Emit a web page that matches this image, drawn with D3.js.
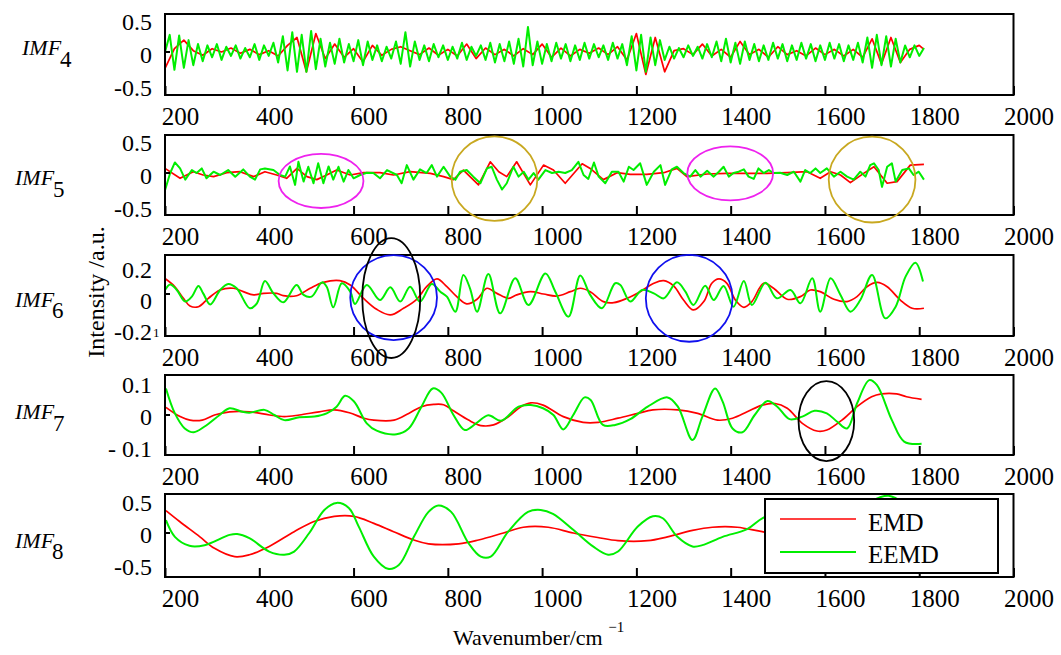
<!DOCTYPE html>
<html>
<head>
<meta charset="utf-8">
<script src="https://cdn.jsdelivr.net/npm/d3@7"></script>
<style>
  body { margin: 0; background: #fff; }
</style>
</head>
<body>
<svg id="chart" width="1061" height="655" font-family="Liberation Serif"></svg>
<script>
// x tick labels (wavenumber)
var xTicks = [200, 400, 600, 800, 1000, 1200, 1400, 1600, 1800, 2000];

// IMF4: sampled every 10 cm-1 (green) and every 20 cm-1 (red)
var imf4EemdY = [0.0, 0.26, -0.27, 0.25, -0.24, 0.18, -0.2, 0.12, -0.14, 0.1,
  -0.08, 0.12, -0.12, 0.08, -0.06, 0.1, -0.1, 0.06, -0.08, 0.12,
  -0.12, 0.1, -0.06, 0.14, -0.16, 0.24, -0.28, 0.3, -0.3, 0.26,
  -0.3, 0.32, -0.26, 0.2, -0.22, 0.14, -0.18, 0.2, -0.16, 0.12,
  -0.14, 0.18, -0.2, 0.16, -0.12, 0.1, -0.14, 0.08, -0.1, 0.16,
  -0.18, 0.3, -0.22, 0.16, -0.12, 0.1, -0.14, 0.12, -0.08, 0.1,
  -0.12, 0.08, -0.1, 0.14, -0.12, 0.08, -0.06, 0.1, -0.12, 0.14,
  -0.16, 0.12, -0.14, 0.16, -0.18, 0.2, -0.22, 0.38, -0.2, 0.16,
  -0.18, 0.12, -0.14, 0.14, -0.1, 0.12, -0.14, 0.1, -0.12, 0.14,
  -0.1, 0.12, -0.08, 0.1, -0.12, 0.14, -0.1, 0.12, -0.2, 0.24,
  -0.28, 0.26, -0.3, 0.22, -0.2, 0.18, -0.12, 0.08, -0.1, 0.06,
  -0.08, 0.1, -0.06, 0.08, -0.1, 0.12, -0.08, 0.16, -0.14, 0.2,
  -0.16, 0.14, -0.18, 0.16, -0.12, 0.12, -0.14, 0.1, -0.12, 0.14,
  -0.1, 0.12, -0.14, 0.1, -0.12, 0.14, -0.1, 0.12, -0.14, 0.1,
  -0.12, 0.14, -0.1, 0.12, -0.14, 0.1, -0.12, 0.14, -0.16, 0.22,
  -0.24, 0.26, -0.2, 0.24, -0.22, 0.2, -0.16, 0.1, -0.08, 0.1,
  -0.06, 0.06];
var imf4EmdY = [-0.25, 0.05, 0.18, 0.02, -0.05, 0.05, 0.0, 0.06, -0.02, 0.04,
  -0.04, 0.02, -0.06, 0.1, 0.22, -0.3, 0.28, -0.1, 0.12, -0.08,
  0.05, -0.15, 0.1, -0.05, 0.04, 0.08, 0.02, -0.04, 0.06, -0.05,
  0.04, -0.06, 0.12, -0.1, 0.06, -0.04, 0.04, -0.06, 0.05, -0.04,
  0.12, -0.08, 0.06, -0.06, 0.04, -0.02, 0.06, -0.04, 0.08, -0.12,
  0.28, -0.34, 0.22, -0.3, 0.02, 0.05, -0.04, 0.12, -0.06, 0.04,
  -0.08, 0.16, -0.04, 0.04, -0.08, 0.08, -0.04, 0.02, -0.06, 0.06,
  -0.04, 0.04, -0.06, 0.04, -0.08, 0.2, -0.18, 0.22, -0.16, 0.04,
  0.1, 0.04];
var imf4EemdX = d3.range(200, 1811, 10);
var imf4EmdX = d3.range(200, 1801, 20).concat([1810]);

// IMF5 [wavenumber, value]
var imf5Emd = [[200,0.07],[232,-0.08],[260,0.02],[281,-0.03],[303,-0.055],[331,0.005],[359,0.02],
  [388,-0.055],[412,0.02],[437,-0.03],[458,-0.08],[480,0.07],[501,-0.055],[522,-0.1],[543,-0.03],
  [564,0.045],[593,-0.03],[621,0.005],[656,0.005],[685,-0.03],[720,0.02],[763,-0.005],[791,-0.055],
  [812,-0.1],[833,0.045],[865,-0.18],[890,0.17],[908,0.02],[925,-0.055],[946,0.17],[975,-0.18],
  [1003,0.12],[1024,0.045],[1049,-0.155],[1085,0.14],[1102,0.07],[1130,-0.1],[1159,0.005],
  [1187,-0.02],[1222,-0.02],[1258,0.005],[1286,0.07],[1307,-0.055],[1350,-0.015],[1392,-0.005],
  [1435,-0.005],[1477,-0.005],[1520,0.005],[1562,0.02],[1590,-0.08],[1612,0.02],[1633,-0.03],
  [1654,-0.145],[1682,-0.005],[1704,0.095],[1732,-0.155],[1753,-0.13],[1781,0.12],[1810,0.13]];
var imf5Eemd = [[200,-0.26],[211,0],[221,0.16],[232,0.07],[243,-0.1],[257,0.045],[267,0],[278,0.07],
  [288,-0.08],[303,0.02],[317,-0.03],[334,0.045],[349,-0.055],[366,0.055],[380,-0.055],[391,-0.1],
  [402,0.055],[412,0.07],[430,0.045],[444,-0.03],[455,-0.055],[465,0.1],[476,-0.18],[483,0.17],
  [494,-0.13],[504,0.095],[515,-0.155],[525,0.147],[536,-0.155],[547,0.1],[557,-0.1],[568,0.095],
  [579,-0.13],[589,0.045],[600,-0.08],[614,-0.03],[628,0.005],[642,0],[656,-0.08],[671,0.045],
  [692,-0.03],[702,-0.155],[713,0.12],[727,-0.1],[741,0.055],[755,0],[766,0.12],[777,-0.055],
  [791,0.095],[805,-0.055],[816,-0.1],[826,0.02],[840,0.045],[854,-0.055],[869,-0.155],[883,0.07],
  [893,0.095],[904,-0.1],[915,-0.25],[925,-0.155],[939,0.095],[950,-0.055],[961,0.02],[971,-0.1],
  [982,0],[992,-0.1],[1007,0.045],[1021,0],[1035,0.02],[1049,0],[1063,0.045],[1077,0.17],
  [1088,-0.03],[1098,-0.09],[1110,0.16],[1120,-0.055],[1134,-0.155],[1148,0.02],[1162,0.02],
  [1173,-0.13],[1184,0.095],[1194,0.045],[1208,0.147],[1222,-0.18],[1237,0.02],[1251,0.12],
  [1261,-0.18],[1275,0.055],[1286,0.095],[1300,0],[1314,-0.055],[1325,0.045],[1336,-0.055],
  [1350,0.035],[1364,-0.055],[1375,0.02],[1385,0.095],[1396,-0.055],[1406,0],[1417,0.02],
  [1428,0.055],[1438,-0.055],[1449,-0.09],[1459,0.07],[1470,0],[1481,0.045],[1491,0],[1505,0.005],
  [1520,-0.03],[1534,0.02],[1548,-0.13],[1558,0.045],[1569,0],[1580,0.07],[1590,0],[1604,0.07],
  [1619,-0.055],[1633,0.02],[1647,-0.055],[1661,-0.1],[1675,0.02],[1686,-0.055],[1696,0.12],
  [1704,0.147],[1714,0.045],[1721,-0.21],[1732,0.095],[1742,0.147],[1750,-0.13],[1764,0.045],
  [1778,0.07],[1788,-0.03],[1799,0.02],[1810,-0.1]];

// IMF6
var imf6Emd = [[200,0.1],[221,0.047],[239,-0.028],[253,-0.077],[271,-0.082],[292,-0.028],[317,0.026],
  [345,0.037],[366,0.015],[388,-0.006],[409,0.004],[437,0.004],[451,-0.011],[479,-0.011],[508,0.037],
  [536,0.075],[571,0.086],[593,0.058],[621,-0.028],[649,-0.099],[678,-0.135],[706,-0.092],
  [734,-0.034],[755,0.047],[777,0.097],[798,0.047],[819,-0.017],[840,-0.064],[862,-0.034],
  [883,0.037],[904,0.004],[929,-0.028],[946,-0.006],[975,0.015],[1003,0],[1031,-0.013],[1060,0.015],
  [1081,0.037],[1102,0.015],[1130,-0.049],[1152,-0.056],[1180,-0.028],[1208,0.015],[1237,0.069],
  [1258,0.086],[1279,0.052],[1300,-0.039],[1321,-0.103],[1343,-0.049],[1360,0.069],[1375,0.097],
  [1392,0.069],[1410,-0.039],[1428,-0.086],[1445,-0.049],[1470,0.069],[1491,0.037],[1520,-0.034],
  [1548,-0.017],[1569,0.026],[1590,0.015],[1619,-0.034],[1647,-0.049],[1668,-0.017],[1689,0.047],
  [1711,0.075],[1732,0.047],[1760,-0.039],[1785,-0.092],[1810,-0.092]];
var imf6Eemd = [[200,0.026],[211,0.062],[225,0.026],[243,-0.049],[257,-0.017],[271,0.052],[281,0.004],
  [296,-0.067],[317,0.026],[334,0.065],[352,0.037],[380,-0.092],[395,-0.06],[412,0.084],[430,0.004],
  [451,-0.054],[479,0.058],[494,-0.006],[511,-0.017],[533,0.075],[543,0.047],[557,-0.086],[575,0.069],
  [593,0.015],[603,-0.064],[628,0.058],[656,-0.039],[678,0.043],[699,-0.049],[720,0.047],[741,-0.049],
  [766,0.065],[784,0.015],[798,-0.017],[816,-0.114],[833,0.123],[847,0.037],[862,-0.114],[886,0.129],
  [911,-0.125],[943,0.101],[971,-0.071],[1007,0.133],[1028,0.015],[1056,-0.146],[1081,0.12],
  [1102,-0.006],[1127,-0.092],[1155,0.069],[1166,0.058],[1187,-0.049],[1212,0.026],[1237,0.004],
  [1258,-0.028],[1286,0.075],[1304,0.015],[1321,-0.071],[1346,0.054],[1364,-0.039],[1385,0.052],
  [1406,-0.082],[1428,0.084],[1445,-0.071],[1474,0.073],[1498,-0.028],[1527,0.026],[1548,-0.06],
  [1573,0.101],[1590,-0.114],[1612,0.101],[1633,-0.006],[1654,-0.114],[1675,-0.039],[1700,0.123],
  [1728,-0.157],[1750,-0.082],[1771,0.112],[1792,0.202],[1808,0.08]];

// IMF7
var imf7Emd = [[202,0.024],[232,-0.005],[253,-0.016],[279,-0.016],[305,0],[337,0.01],[379,0.01],
  [422,0],[453,-0.005],[485,0],[527,0.01],[559,0.016],[591,0.007],[622,-0.01],[643,-0.016],
  [686,-0.016],[717,0.005],[744,0.026],[770,0.033],[791,0.032],[812,0.013],[844,-0.016],[870,-0.033],
  [897,-0.031],[929,-0.005],[955,0.026],[976,0.038],[1002,0.031],[1045,-0.005],[1087,-0.023],
  [1119,-0.023],[1161,-0.01],[1203,0.005],[1235,0.016],[1288,0.016],[1330,0.005],[1372,-0.016],
  [1404,-0.01],[1435,0.01],[1467,0.031],[1494,0.036],[1520,0.021],[1552,-0.026],[1583,-0.05],
  [1604,-0.047],[1636,-0.016],[1668,0.026],[1699,0.057],[1720,0.066],[1752,0.066],[1773,0.057],
  [1805,0.049]];
var imf7Eemd = [[202,0.083],[221,0.005],[242,-0.042],[261,-0.054],[284,-0.036],[316,0],[337,0.021],
  [364,0.01],[379,0.007],[411,0.016],[432,0],[453,-0.016],[485,-0.007],[517,-0.005],[543,0.005],
  [564,0.026],[582,0.06],[601,0.042],[628,-0.026],[649,-0.049],[691,-0.06],[717,-0.042],[744,0.026],
  [768,0.083],[786,0.07],[812,0],[836,-0.047],[860,-0.026],[886,-0.001],[913,-0.018],[950,0.026],
  [976,0.031],[1002,0.021],[1024,0],[1045,-0.045],[1066,0],[1090,0.055],[1103,0.047],[1129,-0.031],
  [1155,-0.031],[1187,-0.013],[1224,0.026],[1266,0.055],[1288,0.026],[1319,-0.078],[1340,-0.005],
  [1367,0.083],[1383,0.042],[1404,-0.042],[1425,-0.054],[1451,0],[1478,0.044],[1499,0.026],
  [1525,-0.013],[1552,-0.005],[1578,0.013],[1604,0.005],[1626,-0.021],[1647,-0.042],[1668,0.036],
  [1694,0.109],[1710,0.094],[1742,-0.016],[1768,-0.083],[1805,-0.09]];

// IMF8
var imf8Emd = [[202,0.35],[231,0.18],[274,-0.06],[305,-0.24],[348,-0.37],[379,-0.34],[421,-0.21],
  [474,0.02],[516,0.18],[559,0.26],[601,0.26],[643,0.15],[685,0.02],[728,-0.11],[759,-0.17],
  [823,-0.17],[865,-0.11],[918,0.0],[960,0.09],[1013,0.09],[1066,0.0],[1118,-0.07],[1161,-0.12],
  [1224,-0.12],[1266,-0.06],[1319,0.04],[1361,0.09],[1414,0.09],[1467,0.02],[1520,-0.04],
  [1600,-0.1],[1700,0.1],[1805,0.2]];
var imf8Eemd = [[202,0.2],[221,-0.06],[252,-0.2],[284,-0.19],[337,-0.03],[353,-0.015],[379,-0.08],
  [421,-0.29],[453,-0.34],[474,-0.29],[506,0.0],[538,0.36],[564,0.47],[590,0.39],[611,0.1],
  [643,-0.37],[673,-0.56],[696,-0.5],[728,-0.06],[759,0.33],[780,0.43],[807,0.33],[844,-0.16],
  [870,-0.37],[891,-0.37],[928,0.02],[970,0.33],[997,0.36],[1023,0.3],[1066,0.05],[1108,-0.21],
  [1140,-0.34],[1161,-0.29],[1203,0.1],[1235,0.26],[1256,0.23],[1287,-0.06],[1319,-0.21],
  [1340,-0.19],[1383,-0.06],[1435,0.06],[1467,0.23],[1500,0.32],[1550,0.25],[1600,0.05],
  [1650,0.2],[1700,0.5],[1735,0.58],[1770,0.45],[1805,0.2]];

var subNames = ["4", "5", "6", "7", "8"];
var yTickValues = [[0.5, 0, -0.5], [0.5, 0, -0.5], [0.2, 0, -0.2], [0.1, 0, -0.1], [0.5, 0, -0.5]];
var yTickLabels = [["0.5", "0", "-0.5"], ["0.5", "0", "-0.5"], ["0.2", "0", "-0.2"], ["0.1", "0", "- 0.1"], ["0.5", "0", "-0.5"]];
var legendNames = ["EMD", "EEMD"];

// annotation ellipses: panel index, centre and half-axes in data units
var marks = [
  {p: 1, cx: 531, cy: -0.12, rx: 90, ry: 0.41, c: "#ee22ee"},
  {p: 1, cx: 899, cy: -0.086, rx: 91, ry: 0.64, c: "#c8a820"},
  {p: 1, cx: 1399, cy: -0.005, rx: 91, ry: 0.41, c: "#ee22ee"},
  {p: 1, cx: 1700, cy: -0.1, rx: 92, ry: 0.65, c: "#c8a820"},
  {p: 2, cx: 685, cy: -0.023, rx: 92, ry: 0.274, c: "#1010ee"},
  {p: 2, cx: 680, cy: -0.026, rx: 61.5, ry: 0.387, c: "#000"},
  {p: 2, cx: 1312, cy: -0.028, rx: 92, ry: 0.28, c: "#1010ee"},
  {p: 3, cx: 1603, cy: -0.019, rx: 59, ry: 0.125, c: "#000"}
];

var series = [
  [imf4EmdX.map(function(d, i) { return [d, imf4EmdY[i]]; }), imf4EemdX.map(function(d, i) { return [d, imf4EemdY[i]]; })],
  [imf5Emd, imf5Eemd],
  [imf6Emd, imf6Eemd],
  [imf7Emd, imf7Eemd],
  [imf8Emd, imf8Eemd]
];

// layout of the stacked panels
var panels = [
  {top: 14, bottom: 95, domain: [-0.652, 0.576], dy: 11, lab: [22, 55, 60, 67]},
  {top: 135, bottom: 215, domain: [-0.636, 0.576], dy: 11, lab: [15, 185, 53, 197]},
  {top: 255, bottom: 336, domain: [-0.271, 0.2516], dy: 15, lab: [15, 307, 52, 318]},
  {top: 375, bottom: 455, domain: [-0.125, 0.125], dy: 10, lab: [15, 419, 53, 431]},
  {top: 494, bottom: 577, domain: [-0.6875, 0.609], dy: 10, lab: [15, 548, 52, 559]}
];

var FONT = "Liberation Serif";
var svg = d3.select("#chart");
var x = d3.scaleLinear().domain([200, 2000]).range([165, 1013.5]);
var colors = ["#ff0000", "#00ee00"];
var widths = [1.7, 2];
var yScales = [];

panels.forEach(function(p, i) {
  var y = d3.scaleLinear().domain(p.domain).range([p.bottom, p.top]);
  yScales.push(y);
  var g = svg.append("g");

  var line = d3.line()
    .x(function(d) { return x(d[0]); })
    .y(function(d) { return y(d[1]); })
    .curve(i < 2 ? d3.curveLinear : d3.curveCatmullRom.alpha(0.5));

  series[i].forEach(function(s, k) {
    g.append("path")
      .datum(s)
      .attr("d", line)
      .attr("fill", "none")
      .attr("stroke", colors[k])
      .attr("stroke-width", widths[k])
      .attr("stroke-linejoin", "round");
  });

  g.append("rect")
    .attr("x", x(200)).attr("y", p.top)
    .attr("width", x(2000) - x(200)).attr("height", p.bottom - p.top)
    .attr("fill", "none").attr("stroke", "#000").attr("stroke-width", 2);

  var xa = g.append("g")
    .attr("transform", "translate(0," + p.bottom + ")")
    .call(d3.axisBottom(x).tickValues(xTicks).tickSizeInner(-9).tickSizeOuter(0).tickFormat(d3.format("d")));
  xa.attr("font-family", FONT).attr("font-size", 25);
  xa.select(".domain").remove();
  xa.selectAll(".tick line").attr("stroke", "#000").attr("stroke-width", 2);
  xa.selectAll(".tick text").attr("fill", "#000").attr("dx", 15).attr("y", 30).attr("dy", 0);

  // zero tick + y labels
  g.append("line")
    .attr("x1", x(200)).attr("x2", x(200) + 5)
    .attr("y1", y(0)).attr("y2", y(0))
    .attr("stroke", "#000").attr("stroke-width", 2);

  g.selectAll(".ylab")
    .data(yTickValues[i])
    .enter().append("text")
    .attr("class", "ylab")
    .attr("x", 152)
    .attr("y", function(d) { return y(d) + p.dy; })
    .attr("text-anchor", "end")
    .attr("font-family", FONT)
    .attr("font-size", 24)
    .text(function(d, j) { return yTickLabels[i][j]; });

  if (i == 2) {
    g.append("text").attr("x", 153).attr("y", 337)
      .attr("font-family", FONT).attr("font-size", 13).text("1");
  }

  // IMF name
  g.append("text")
    .attr("x", p.lab[0]).attr("y", p.lab[1])
    .attr("font-family", FONT)
    .attr("font-size", 22).attr("font-style", "italic")
    .text("IMF");
  g.append("text")
    .attr("x", p.lab[2]).attr("y", p.lab[3])
    .attr("font-family", FONT)
    .attr("font-size", 23)
    .text(subNames[i]);
});

// circled regions
svg.selectAll(".mark")
  .data(marks)
  .enter().append("ellipse")
  .attr("class", "mark")
  .attr("cx", function(d) { return x(d.cx); })
  .attr("cy", function(d) { return yScales[d.p](d.cy); })
  .attr("rx", function(d) { return x(d.cx + d.rx) - x(d.cx); })
  .attr("ry", function(d) { return yScales[d.p](d.cy) - yScales[d.p](d.cy + d.ry); })
  .attr("fill", "none")
  .attr("stroke", function(d) { return d.c; })
  .attr("stroke-width", 1.8);

// legend
var lg = svg.append("g").attr("transform", "translate(765,499)");
lg.append("rect").attr("width", 233).attr("height", 74)
  .attr("fill", "#fff").attr("stroke", "#000").attr("stroke-width", 2);
legendNames.forEach(function(n, k) {
  lg.append("line")
    .attr("x1", 15).attr("x2", 91)
    .attr("y1", 20 + k * 33).attr("y2", 20 + k * 33)
    .attr("stroke", colors[k]).attr("stroke-width", widths[k]);
  lg.append("text")
    .attr("x", 103).attr("y", 32 + k * 32)
    .attr("font-family", FONT)
    .attr("font-size", 25)
    .text(n);
});

// axis titles
svg.append("text")
  .attr("transform", "translate(104,292) rotate(-90)")
  .attr("text-anchor", "middle")
  .attr("font-family", FONT)
  .attr("font-size", 24)
  .text("Intensity /a.u.");

var xt = svg.append("text")
  .attr("x", 453).attr("y", 645)
  .attr("font-family", FONT)
  .attr("font-size", 22);
xt.append("tspan").text("Wavenumber/cm ");
xt.append("tspan").attr("font-size", 15).attr("dy", -13).text("\u22121");
</script>
</body>
</html>
